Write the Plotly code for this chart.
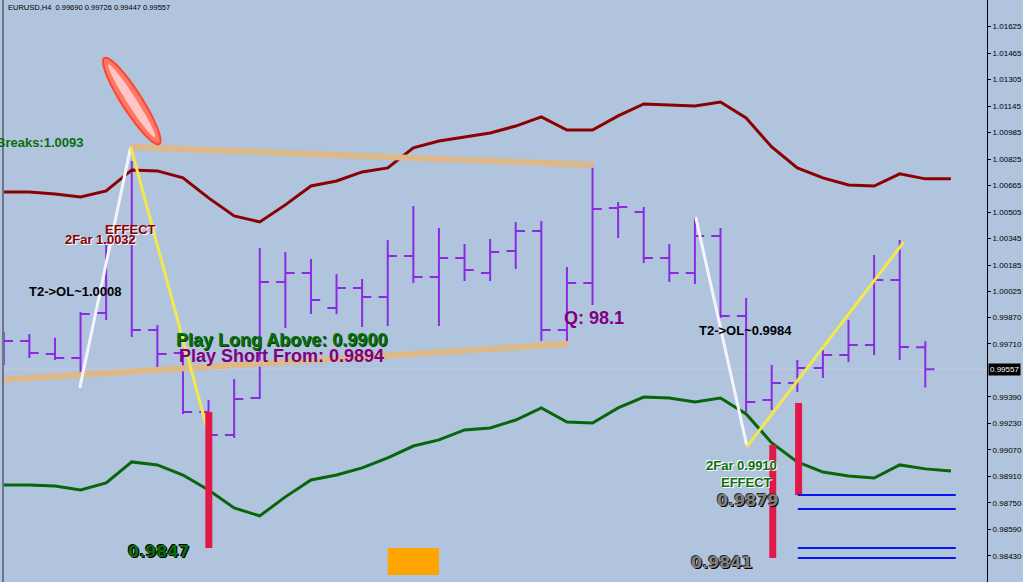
import math
import plotly.graph_objects as go

# ---------------- data ----------------
bar_idx = list(range(37))
bar_open = [0.99703, 0.99727, 0.99649, 0.99625, 0.99896, 1.00319, 0.99794, 0.99655, 0.99299, 0.99160,
            0.99383, 1.00084, 1.00138, 0.99927, 1.00047, 0.99993, 1.00241, 1.00114, 1.00229, 1.00138,
            1.00271, 1.00392, 0.99794, 1.00078, 1.00530, 1.00506, 1.00229, 1.00138, 1.00361, 0.99878,
            0.99371, 0.99474, 0.99564, 0.99643, 0.99703, 1.00096, 0.99690]
bar_high = [0.99782, 0.99770, 0.99746, 0.99902, 1.00325, 1.00814, 0.99824, 0.99661, 0.99371, 0.99498,
            1.00289, 1.00265, 1.00222, 1.00132, 1.00102, 1.00337, 1.00542, 1.00410, 1.00313, 1.00343,
            1.00446, 1.00452, 1.00174, 1.00790, 1.00567, 1.00536, 1.00313, 1.00476, 1.00410, 0.99987,
            0.99582, 0.99613, 0.99673, 0.99854, 1.00247, 1.00337, 0.99726]
bar_low = [0.99582, 0.99625, 0.99613, 0.99510, 0.99854, 0.99752, 0.99564, 0.99287, 0.99148, 0.99142,
           0.99377, 0.99806, 0.99890, 0.99890, 0.99812, 0.99818, 1.00078, 0.99818, 1.00090, 1.00090,
           1.00162, 0.99727, 0.99709, 0.99945, 1.00349, 1.00198, 1.00084, 1.00072, 0.99866, 0.99299,
           0.99311, 0.99419, 0.99504, 0.99601, 0.99643, 0.99613, 0.99447]
bar_close = [0.99727, 0.99655, 0.99625, 0.99890, 1.00319, 0.99794, 0.99649, 0.99299, 0.99160, 0.99377,
             1.00084, 1.00138, 0.99975, 1.00047, 0.99993, 1.00241, 1.00114, 1.00229, 1.00156, 1.00265,
             1.00392, 0.99794, 1.00078, 1.00524, 1.00536, 1.00229, 1.00138, 1.00361, 0.99878, 0.99359,
             0.99474, 0.99564, 0.99643, 0.99703, 1.00096, 0.99691, 0.99557]

band_idx = list(range(38))
upper_band = [1.00627, 1.00627, 1.00615, 1.00597, 1.00633, 1.00760, 1.00754, 1.00712, 1.00591, 1.00482,
              1.00446, 1.00549, 1.00663, 1.00693, 1.00748, 1.00772, 1.00893, 1.00935, 1.00959, 1.00983,
              1.01025, 1.01080, 1.01001, 1.01001, 1.01086, 1.01158, 1.01152, 1.01146, 1.01170, 1.01074,
              1.00899, 1.00772, 1.00712, 1.00669, 1.00663, 1.00736, 1.00706, 1.00706]
lower_band = [0.98858, 0.98858, 0.98852, 0.98828, 0.98870, 0.98997, 0.98979, 0.98918, 0.98828, 0.98719,
              0.98671, 0.98786, 0.98888, 0.98918, 0.98961, 0.99021, 0.99093, 0.99130, 0.99190, 0.99202,
              0.99250, 0.99323, 0.99238, 0.99232, 0.99323, 0.99389, 0.99383, 0.99359, 0.99383, 0.99287,
              0.99112, 0.98997, 0.98936, 0.98912, 0.98900, 0.98979, 0.98955, 0.98942]

tick_vals = [1.01625, 1.01465, 1.01305, 1.01145, 1.00985, 1.00825, 1.00665, 1.00505, 1.00345, 1.00185,
             1.00025, 0.99870, 0.99710, 0.99390, 0.99230, 0.99070, 0.98910, 0.98750, 0.98590, 0.98430]
tick_text = ["%.5f" % v for v in tick_vals]

last_price = 0.99557
title_text = "EURUSD,H4  0.99690 0.99726 0.99447 0.99557"

# drawn objects (x in bar index, y in price)
tan_lines = [((4.96, 1.00899), (23.05, 1.00790)), ((-0.12, 0.99492), (22.07, 0.99709))]
white_lines = [((2.97, 0.99444), (4.96, 1.00899)), ((27.03, 1.00476), (29.02, 0.99099))]
yellow_lines = [((4.96, 1.00899), (8.01, 0.99160)), ((29.02, 0.99087), (35.16, 1.00325))]
red_bars = [(8.01, 0.99299, 0.98478), (30.04, 0.99099, 0.98417), (31.05, 0.99353, 0.98797)]
blue_levels = [0.98797, 0.98713, 0.98478, 0.98417]
blue_x = (31.02, 37.19)
orange_box = (15.0, 0.98478, 17.0, 0.98315)
ellipse_center = (5.0, 1.01176)

# ---------------- figure ----------------
X_RANGE = [-0.03, 38.41]
Y_RANGE = [0.98272, 1.01786]
PX_PER_X = 984 / (X_RANGE[1] - X_RANGE[0])
PX_PER_Y = 582 / (Y_RANGE[1] - Y_RANGE[0])

fig = go.Figure()

fig.add_trace(go.Scatter(x=band_idx, y=upper_band, mode="lines",
                         line=dict(color="#8B0000", width=3), hoverinfo="skip"))
fig.add_trace(go.Scatter(x=band_idx, y=lower_band, mode="lines",
                         line=dict(color="#0A640A", width=3), hoverinfo="skip"))

fig.add_trace(go.Ohlc(x=bar_idx, open=bar_open, high=bar_high, low=bar_low, close=bar_close,
                      increasing=dict(line=dict(color="#8A2BE2", width=2)),
                      decreasing=dict(line=dict(color="#8A2BE2", width=2)),
                      tickwidth=0.36))

shapes = []
# faint current price line
shapes.append(dict(type="line", xref="paper", x0=0, x1=1, yref="y", y0=last_price, y1=last_price,
                   line=dict(color="rgba(205,210,220,0.8)", width=1), layer="below"))
for (a, b) in tan_lines:
    shapes.append(dict(type="line", xref="x", yref="y", x0=a[0], y0=a[1], x1=b[0], y1=b[1],
                       line=dict(color="#DEB887", width=6)))
for (a, b) in white_lines:
    shapes.append(dict(type="line", xref="x", yref="y", x0=a[0], y0=a[1], x1=b[0], y1=b[1],
                       line=dict(color="#F4F4FA", width=3)))
for (a, b) in yellow_lines:
    shapes.append(dict(type="line", xref="x", yref="y", x0=a[0], y0=a[1], x1=b[0], y1=b[1],
                       line=dict(color="#F2E84A", width=3)))
for (xx, y0, y1) in red_bars:
    shapes.append(dict(type="line", xref="x", yref="y", x0=xx, x1=xx, y0=y0, y1=y1,
                       line=dict(color="#E0194A", width=7)))
for lv in blue_levels:
    shapes.append(dict(type="line", xref="x", yref="y", x0=blue_x[0], x1=blue_x[1], y0=lv, y1=lv,
                       line=dict(color="#0A14F0", width=2)))
shapes.append(dict(type="rect", xref="x", yref="y", x0=orange_box[0], y0=orange_box[1],
                   x1=orange_box[2], y1=orange_box[3], fillcolor="#FFA500", line=dict(width=0)))


def ellipse_path(cx, cy, a_px, b_px, dir_px):
    ux, uy = dir_px
    n = math.hypot(ux, uy)
    ux, uy = ux / n, uy / n
    vx, vy = -uy, ux
    pts = []
    for k in range(61):
        t = 2 * math.pi * k / 60
        px = a_px * math.cos(t) * ux + b_px * math.sin(t) * vx
        py = a_px * math.cos(t) * uy + b_px * math.sin(t) * vy
        pts.append((cx + px / PX_PER_X, cy - py / PX_PER_Y))
    return "M " + " L ".join("%.5f,%.6f" % p for p in pts) + " Z"


shapes.append(dict(type="path", xref="x", yref="y",
                   path=ellipse_path(ellipse_center[0], ellipse_center[1], 51, 10, (55, 86)),
                   fillcolor="#FF7A66", line=dict(color="#FF4530", width=2)))
shapes.append(dict(type="path", xref="x", yref="y",
                   path=ellipse_path(ellipse_center[0], ellipse_center[1], 43, 4.5, (55, 86)),
                   fillcolor="#FFC6C6", line=dict(width=0)))
# left border
shapes.append(dict(type="line", xref="paper", yref="paper", x0=0, x1=0, y0=0, y1=1,
                   line=dict(color="#6E7686", width=2)))

NARROW = "Liberation Sans Narrow, Arial Narrow, Liberation Sans, Arial"
BOLD = "Liberation Sans, Arial"
WIDE = "DejaVu Sans, Verdana"

ann = []


def txt(x, y, s, color, size, family, anchor="center", shadow=None, xshift=0):
    f = dict(color=color, size=size, family=family, weight="bold")
    if shadow:
        f["shadow"] = shadow
    ann.append(dict(x=x, y=y, xref="x", yref="y", text=s, showarrow=False, xanchor=anchor,
                    yanchor="middle", font=f, xshift=xshift))


txt(0, 1.00923, "Breaks:1.0093", "#0A6E0A", 13, NARROW, "left", None, -10)
txt(4.96, 1.00398, "EFFECT", "#8B0000", 13, NARROW, "center", "1px 1px 0 #ffffff")
txt(3.79, 1.00337, "2Far 1.0032", "#8B0000", 13, NARROW, "center", "1px 1px 0 #ffffff")
txt(2.81, 1.00023, "T2->OL~1.0008", "#000000", 13, NARROW, "center")
txt(6.64, 0.99733, "Play Long Above: 0.9900", "#0A6E0A", 18, BOLD, "left", "1px 1px 0 #0a3a0a")
txt(6.76, 0.99637, "Play Short From: 0.9894", "#800080", 18, BOLD, "left")
txt(21.80, 0.99866, "Q: 98.1", "#800080", 18, BOLD, "left")
txt(27.10, 0.99788, "T2->OL~0.9984", "#000000", 13, NARROW, "left")
txt(28.83, 0.98973, "2Far 0.9910", "#0A6E0A", 13, NARROW, "center", "1px 1px 0 #ffffff, -1px -1px 0 #ffffff")
txt(29.02, 0.98870, "EFFECT", "#0A6E0A", 13, NARROW, "center", "1px 1px 0 #ffffff, -1px -1px 0 #ffffff")
txt(29.06, 0.98767, "0.9879", "#808080", 16, WIDE, "center", "1px 1px 0 #000000, -1px -1px 0 #303030")
txt(28.05, 0.98387, "0.9841", "#808080", 16, WIDE, "center", "1px 1px 0 #000000, -1px -1px 0 #303030")
txt(6.05, 0.98459, "0.9847", "#0A6E0A", 16, WIDE, "center", "1px 1px 0 #000000, -1px -1px 0 #000000")

ann.append(dict(xref="paper", yref="paper", x=0, y=1, xanchor="left", yanchor="top", xshift=3,
                yshift=-1, text=title_text, showarrow=False,
                font=dict(color="#000000", size=7.5, family="Liberation Sans, Arial")))
ann.append(dict(xref="paper", yref="y", x=1, y=last_price, xanchor="left", yanchor="middle", xshift=1,
                text=str(last_price), showarrow=False, bgcolor="#000000", borderpad=1,
                font=dict(color="#FFFFFF", size=8, family="Liberation Sans, Arial")))

fig.update_layout(
    width=1023, height=582,
    margin=dict(l=3, r=36, t=0, b=0),
    paper_bgcolor="#B0C4DE", plot_bgcolor="#B0C4DE",
    showlegend=False,
    shapes=shapes, annotations=ann,
    xaxis=dict(range=X_RANGE, visible=False, rangeslider=dict(visible=False), fixedrange=True),
    yaxis=dict(range=Y_RANGE, side="right", showgrid=False, zeroline=False, showline=True,
               linecolor="#000000", linewidth=1, ticks="outside", ticklen=3, tickcolor="#000000",
               tickvals=tick_vals, ticktext=tick_text,
               tickfont=dict(size=8, color="#000000", family="Liberation Sans, Arial"),
               fixedrange=True),
)

fig.write_html("out.html", config={"displayModeBar": False},
               post_script="document.body.style.margin='0';document.body.style.overflow='hidden';")
